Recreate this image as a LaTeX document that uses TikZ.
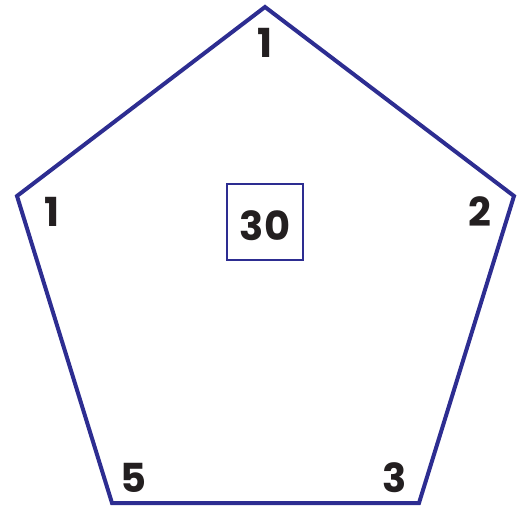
\documentclass[tikz,border=0pt]{standalone}
\usepackage{fontspec}
\setmainfont{Poppins}
\usetikzlibrary{positioning, calc}
\definecolor{edgeblue}{RGB}{45,45,145}
\definecolor{numblack}{RGB}{35,31,32}

\begin{document}
\begin{tikzpicture}[
    x=1pt, y=-1pt,
    num/.style={text=numblack,font=\fontsize{40}{48}\selectfont\bfseries,inner sep=0pt},
    edge/.style={draw=edgeblue,line width=4pt,line join=miter},
    sumbox/.style={draw=edgeblue,line width=2pt,minimum width=76pt,minimum height=76pt,
                   num,text height=36pt,text depth=0pt}
]
  \useasboundingbox (0,0) rectangle (517,507);
  % Pentagon corners
  \coordinate (top) at (265,7);
  \coordinate (right) at (514,196);
  \coordinate (botright) at (419,503);
  \coordinate (botleft) at (112,503);
  \coordinate (left) at (17,196);
  \draw[edge] (top) -- (right) -- (botright) -- (botleft) -- (left) -- cycle;

  % Corner numbers
  \node[num] (ntop) at (265,43) {1};
  \node[num] (nleft) at (52,212) {1};
  \node[num] (nright) at (480,212) {2};
  \node[num] (nbotleft) at (133,478) {5};
  \node[num] (nbotright) at (395,478) {3};

  % Sum in the middle
  \node[sumbox] (sum) at (265,222) {30};
\end{tikzpicture}
\end{document}
